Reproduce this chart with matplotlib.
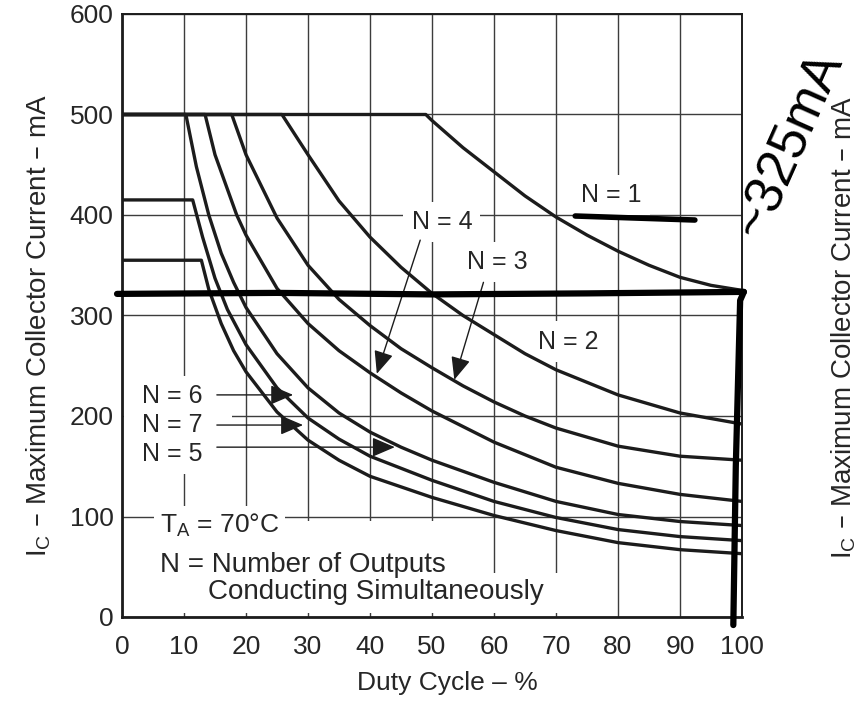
import matplotlib
matplotlib.use("Agg")
import matplotlib.pyplot as plt
from matplotlib.patches import Rectangle

plt.rcParams['font.family'] = ['Liberation Sans', 'DejaVu Sans']
plt.rcParams['mathtext.default'] = 'regular'

# ---------------- data ----------------
duty_ticks = [0, 10, 20, 30, 40, 50, 60, 70, 80, 90, 100]
current_ticks = [0, 100, 200, 300, 400, 500, 600]

n1_x = [0, 49, 50, 55, 60, 65, 70, 75, 80, 85, 90, 95, 100]
n1_y = [500, 500, 494, 467, 443, 419, 398, 380, 364, 350, 338, 330, 325]

n2_x = [0, 25.8, 28, 30, 35, 40, 45, 50, 55, 60, 65, 70, 80, 90, 100]
n2_y = [500, 500, 479, 460, 414, 378, 348, 322, 300, 281, 262, 246, 221, 203, 192]

n3_x = [0, 17.7, 20, 25, 30, 35, 40, 45, 50, 55, 60, 65, 70, 80, 90, 100]
n3_y = [500, 500, 460, 397, 350, 316, 290, 267, 248, 230, 214, 200, 188, 170, 160, 156]

n4_x = [0, 13.4, 15, 18.5, 20, 25, 30, 35, 40, 45, 50, 60, 70, 80, 90, 100]
n4_y = [500, 500, 460, 400, 380, 327, 292, 265, 243, 223, 205, 174, 149, 133, 122, 115]

n5_x = [0, 10.3, 12, 14, 16, 18, 20, 25, 30, 35, 40, 45, 50, 60, 70, 80, 90, 100]
n5_y = [500, 500, 448, 400, 362, 333, 308, 262, 228, 203, 184, 169, 156, 134, 115, 102, 95, 91]

n6_x = [0, 11.4, 13, 15, 17, 20, 25, 30, 35, 40, 50, 60, 70, 80, 90, 100]
n6_y = [415, 415, 378, 337, 306, 271, 228, 198, 177, 160, 136, 115, 99, 87, 80, 76]

n7_x = [0, 12.8, 14, 16, 18, 20, 25, 30, 35, 40, 50, 60, 70, 80, 90, 100]
n7_y = [355, 355, 326, 292, 265, 244, 204, 176, 156, 140, 119, 101, 86, 74, 67, 63]

curves = [(n1_x, n1_y), (n2_x, n2_y), (n3_x, n3_y), (n4_x, n4_y),
          (n5_x, n5_y), (n6_x, n6_y), (n7_x, n7_y)]

# curve labels: text, x, y, ha
curve_labels = [("N = 1", 78.9, 420, 'center'),
                ("N = 4", 51.6, 393, 'center'),
                ("N = 3", 60.6, 353, 'center'),
                ("N = 2", 71.9, 274, 'center'),
                ("N = 6", 3.2, 220, 'left'),
                ("N = 7", 3.2, 191, 'left'),
                ("N = 5", 3.2, 162, 'left')]

# leader arrows: (start, tip)
arrows = [((48.1, 375), (41.1, 242)),
          ((58.3, 333), (53.6, 236)),
          ((15.3, 221), (27.6, 221)),
          ((15.3, 191), (29.2, 191)),
          ((15.3, 169), (44.0, 169))]

# hand-drawn annotation strokes
mark_h_x = [-0.8, 25, 50, 75, 100.3]
mark_h_y = [321.5, 322.5, 321, 322, 323.5]
mark_v_x = [100.3, 99.7, 99.0, 98.6]
mark_v_y = [323.5, 315, 150, -8]
underline_x = [73.1, 92.4]
underline_y = [399, 395]

ink = '#1c1c1c'
gridc = '#3c3c3c'
textc = '#262626'

W, H = 861, 702
fig = plt.figure(figsize=(W / 100, H / 100), dpi=100)
fig.patch.set_facecolor('white')
ax = fig.add_axes([122 / W, 1 - 617 / H, 620 / W, 603 / H])

ax.set_xlim(0, 100)
ax.set_ylim(0, 600)
ax.set_xticks(duty_ticks)
ax.set_yticks(current_ticks)
ax.tick_params(length=0, labelsize=19, colors=textc)
ax.tick_params(axis='x', pad=13)
ax.tick_params(axis='y', pad=6)
ax.grid(True, color=gridc, lw=1.0, zorder=0)
ax.set_axisbelow(True)
for s in ['left', 'bottom']:
    ax.spines[s].set_linewidth(2.0)
    ax.spines[s].set_color(ink)
for s in ['top', 'right']:
    ax.spines[s].set_linewidth(1.4)
    ax.spines[s].set_color(ink)

# blank areas of the datasheet (grid interrupted by text)
ax.add_patch(Rectangle((3, 4), 55, 92, facecolor='white', edgecolor='none', zorder=1))
ax.add_patch(Rectangle((58, 4), 14, 40, facecolor='white', edgecolor='none', zorder=1))
ax.add_patch(Rectangle((0.3, 148), 17.5, 88, facecolor='white', edgecolor='none', zorder=1))

for cx, cy in curves:
    ax.plot(cx, cy, color=ink, lw=2.4, solid_joinstyle='round', zorder=3)

box = dict(facecolor='white', edgecolor='none', pad=6)
for txt, lx, ly, ha in curve_labels:
    ax.text(lx, ly, txt, ha=ha, va='center', fontsize=18, color=textc,
            bbox=box, zorder=2)

for (sx, sy), (tx, ty) in arrows:
    ax.annotate('', xy=(tx, ty), xytext=(sx, sy), zorder=4,
                arrowprops=dict(arrowstyle='-|>,head_length=0.7,head_width=0.3',
                                lw=1.0, color=ink, shrinkA=0, shrinkB=0,
                                mutation_scale=20))

ax.text(6.1, 91, 'T$_\\mathregular{A}$ = 70°C', ha='left', va='center', fontsize=19,
        color=textc, bbox=dict(facecolor='white', edgecolor='none', pad=4), zorder=2)
ax.text(6.1, 52, 'N = Number of Outputs', ha='left', va='center', fontsize=20,
        color=textc, zorder=2)
ax.text(13.9, 25, 'Conducting Simultaneously', ha='left', va='center', fontsize=20,
        color=textc, zorder=2)

# hand-drawn marks
ax.plot(mark_h_x, mark_h_y, color='black', lw=4.5, solid_capstyle='round',
        clip_on=False, zorder=6)
ax.plot(mark_v_x, mark_v_y, color='black', lw=4.5, solid_capstyle='round',
        clip_on=False, zorder=6)
ax.plot(underline_x, underline_y, color='black', lw=4, solid_capstyle='round',
        clip_on=False, zorder=6)

fig.text(447 / W, 1 - 683 / H, 'Duty Cycle – %', ha='center', va='center',
         fontsize=19, color=textc)
fig.text(39 / W, 1 - 326 / H, 'I$_\\mathregular{C}$ – Maximum Collector Current – mA',
         rotation=90, ha='center', va='center', fontsize=20, color=textc)
fig.text(844 / W, 1 - 328 / H, 'I$_\\mathregular{C}$ – Maximum Collector Current – mA',
         rotation=90, ha='center', va='center', fontsize=20, color=textc)
fig.text(790 / W, 1 - 145 / H, '~325mA', rotation=66, ha='center', va='center',
         fontsize=38, color='black')

fig.savefig('out.png', dpi=100, facecolor='white')
